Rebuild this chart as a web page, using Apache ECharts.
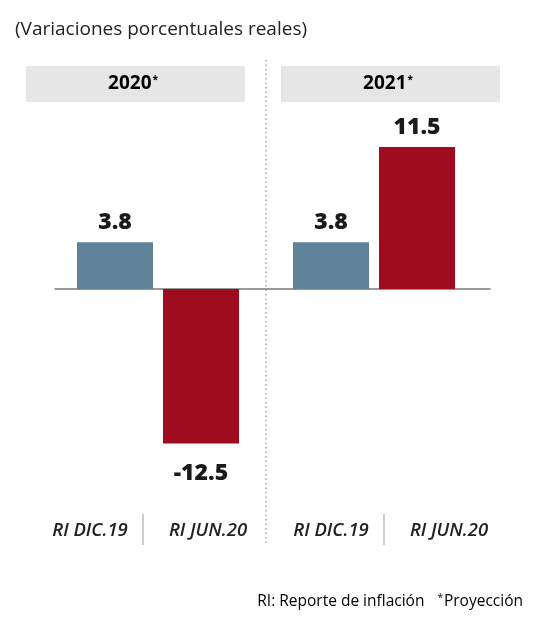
<!DOCTYPE html>
<html>
<head>
<meta charset="utf-8">
<script src="https://cdn.jsdelivr.net/npm/echarts@6/dist/echarts.min.js"></script>
<style>
  html, body { margin: 0; padding: 0; background: #fff; }
  #chart { width: 534px; height: 617px; }
</style>
</head>
<body>
<div id="chart"></div>
<script>
// Real GDP growth forecasts by inflation report (percent)
const years = ['2020', '2021'];
const reports = ['RI DIC.19', 'RI JUN.20'];
const growth2020 = [3.8, -12.5];
const growth2021 = [3.8, 11.5];
const titleText = '(Variaciones porcentuales reales)';
const noteText = 'RI: Reporte de inflación';
const projText = 'Proyección';

const BLUE = '#5f8299';
const RED = '#a00c1f';
const FONT = '"Open Sans", "Noto Sans", sans-serif';

const Y_MIN = -14, Y_MAX = 13;
const gridTop = 128.5;
const gridBottom = 155;

function barData(values) {
  return values.map((v, i) => ({
    value: v,
    itemStyle: { color: i === 0 ? BLUE : RED },
    label: {
      position: v >= 0 ? 'top' : 'bottom',
      distance: v >= 0 ? 8 : 18
    }
  }));
}

function catAxis(gridIndex, pads) {
  const base = { fontFamily: FONT, fontStyle: 'italic', fontWeight: 600, fontSize: 18.5, color: '#222' };
  return {
    type: 'category',
    gridIndex: gridIndex,
    data: reports,
    position: 'bottom',
    axisLine: { show: false, onZero: false },
    axisTick: { show: false },
    axisLabel: {
      interval: 0,
      hideOverlap: false,
      margin: 59,
      formatter: (v, i) => '{c' + i + '|' + v + '}',
      rich: {
        c0: Object.assign({ padding: pads[0] }, base),
        c1: Object.assign({ padding: pads[1] }, base)
      }
    }
  };
}

function valAxis(gridIndex) {
  return {
    type: 'value',
    gridIndex: gridIndex,
    min: Y_MIN,
    max: Y_MAX,
    show: false
  };
}

function header(x, year) {
  return {
    type: 'group',
    left: x,
    top: 66,
    children: [
      { type: 'rect', shape: { x: 0, y: 0, width: 219, height: 36 }, style: { fill: '#e6e6e6' } },
      {
        type: 'text',
        x: 107, y: 18,
        style: {
          text: '{y|' + year + '}{s|*}',
          align: 'center', verticalAlign: 'middle',
          rich: {
            y: { fontFamily: FONT, fontWeight: 'bold', fontSize: 19, color: '#1a1a1a' },
            s: { fontFamily: FONT, fontWeight: 'bold', fontSize: 10, color: '#1a1a1a', padding: [0, 0, 8, 1] }
          }
        }
      }
    ]
  };
}

const labelStyle = {
  show: true,
  fontFamily: FONT,
  fontWeight: 800,
  fontSize: 23,
  color: '#1a1a1a'
};

const chart = echarts.init(document.getElementById('chart'), null, { renderer: 'canvas' });
chart.setOption({
  backgroundColor: '#fff',
  animation: false,
  title: {
    text: titleText,
    left: 10,
    top: 15,
    textStyle: { fontFamily: FONT, fontWeight: 'normal', fontSize: 19, color: '#222' }
  },
  grid: [
    { left: 55, right: 44, top: gridTop, bottom: gridBottom },
    { left: 72, width: 172, top: gridTop, bottom: gridBottom },
    { left: 288, width: 172, top: gridTop, bottom: gridBottom }
  ],
  xAxis: [
    {
      type: 'value', gridIndex: 0, min: 0, max: 1,
      axisLine: { show: true, onZero: true, lineStyle: { color: '#7a7a7a', width: 1.5 } },
      axisTick: { show: false }, axisLabel: { show: false }, splitLine: { show: false }
    },
    catAxis(1, [[0, 50, 0, 0], [0, 0, 0, 14]]),
    catAxis(2, [[0, 0, 0, 0], [0, 0, 0, 64]])
  ],
  yAxis: [valAxis(0), valAxis(1), valAxis(2)],
  series: [
    {
      type: 'bar', name: years[0], xAxisIndex: 1, yAxisIndex: 1,
      barWidth: 76, data: barData(growth2020), label: labelStyle
    },
    {
      type: 'bar', name: years[1], xAxisIndex: 2, yAxisIndex: 2,
      barWidth: 76, data: barData(growth2021), label: labelStyle
    }
  ],
  graphic: [
    header(26, years[0]),
    header(281, years[1]),
    {
      type: 'line', shape: { x1: 266, y1: 60, x2: 266, y2: 546 },
      style: { stroke: '#a8a8a8', lineWidth: 1.5, lineDash: [1.5, 3] }
    },
    { type: 'line', shape: { x1: 143, y1: 514, x2: 143, y2: 545 }, style: { stroke: '#bdbdbd', lineWidth: 1.5 } },
    { type: 'line', shape: { x1: 384, y1: 514, x2: 384, y2: 545 }, style: { stroke: '#bdbdbd', lineWidth: 1.5 } },
    {
      type: 'text',
      right: 11,
      top: 593,
      style: {
        text: '{n|' + noteText + '}{g|}{s|*}{n|' + projText + '}',
        rich: {
          n: { fontFamily: FONT, fontSize: 15.5, color: '#333' },
          g: { width: 13 },
          s: { fontFamily: FONT, fontSize: 10, color: '#333', padding: [0, 1, 7, 0] }
        }
      }
    }
  ]
});
</script>
</body>
</html>
